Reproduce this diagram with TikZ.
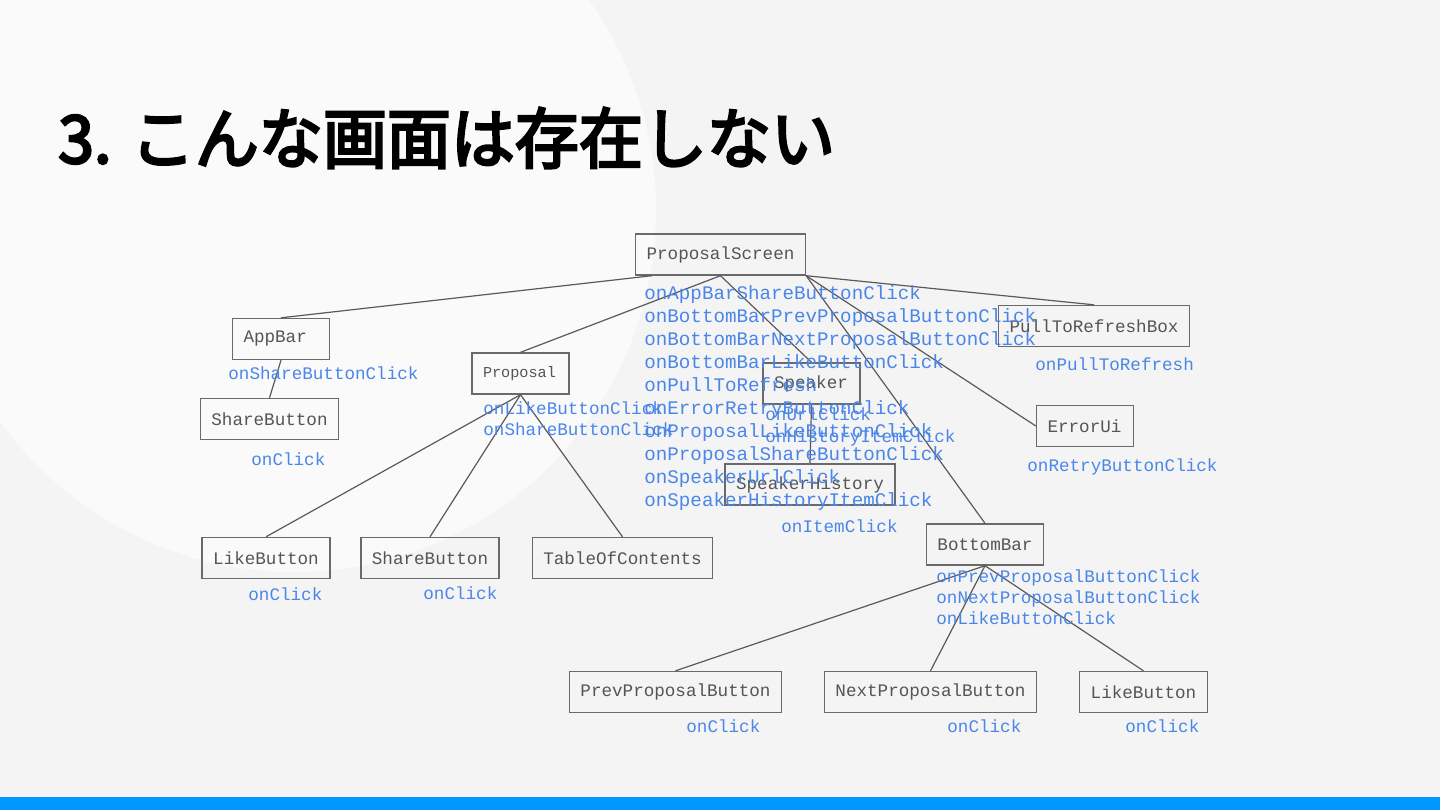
\documentclass[tikz,border=0pt]{standalone}
\usepackage{fontspec}
\setmonofont{Liberation Mono}
\newfontfamily\jpfont{Noto Sans CJK JP}[FakeBold=4]
\usetikzlibrary{positioning,calc}
\definecolor{slidebg}{HTML}{F4F4F4}
\definecolor{circlebg}{HTML}{FAFAFA}
\definecolor{barblue}{HTML}{0096FF}
\definecolor{linegray}{HTML}{5A5A5A}
\definecolor{boxgray}{HTML}{6A6A6A}
\definecolor{textgray}{HTML}{555555}
\definecolor{cbblue}{HTML}{4A86E8}
\tikzset{
  box/.style={draw=boxgray, line width=0.7pt, text=textgray, font=\ttfamily\fontsize{8.8}{10}\selectfont, inner xsep=5.5pt, inner ysep=0pt, minimum height=20.5pt},
  shortbox/.style={box, text width=37.5pt},
  edge/.style={draw=linegray, line width=0.6pt},
  cb/.style={text=cbblue, font=\ttfamily\fontsize{8.8}{10}\selectfont, inner sep=0pt, anchor=base west},
  cbbig/.style={cb, font=\ttfamily\fontsize{9.6}{11}\selectfont},
}
\begin{document}
\begin{tikzpicture}[x=0.5pt,y=-0.5pt]
        % slide
            \useasboundingbox (0,0) rectangle (1440,810);
            \fill[slidebg] (0,0) rectangle (1440,810);
            \begin{scope}
                \clip (0,0) rectangle (1440,810);
                \fill[circlebg] (294,210) circle (362);
            \end{scope}
            \fill[barblue] (0,797) rectangle (1440,810);
            \node[anchor=base west, inner sep=0pt, xscale=0.97, font=\jpfont\fontsize{33}{38}\selectfont] (title) at (58,163) {3. こんな画面は存在しない};
        % boxes
            \node[box] (screen) at (720.5,254.5) {ProposalScreen};
            \node[shortbox] (appbar) at (281,339) {AppBar};
            \node[box] (appshare) at (269.5,419) {ShareButton};
            \node[shortbox, font=\ttfamily\fontsize{7.6}{9}\selectfont] (proposal) at (520.5,373.5) {Proposal};
            \node[box] (proplike) at (266,558) {LikeButton};
            \node[box] (propshare) at (430,558) {ShareButton};
            \node[box] (toc) at (622.5,558) {TableOfContents};
            \node[shortbox] (speaker) at (811.5,383.5) {Speaker};
            \node[box] (history) at (810,484.5) {SpeakerHistory};
            \node[box] (pull) at (1094,326) {PullToRefreshBox};
            \node[shortbox] (errorui) at (1085,426) {ErrorUi};
            \node[box] (bottombar) at (985,544.5) {BottomBar};
            \node[box] (prevbtn) at (675.5,692) {PrevProposalButton};
            \node[box] (nextbtn) at (930.5,692) {NextProposalButton};
            \node[box] (barlike) at (1143.5,692) {LikeButton};
        % connectors
            \draw[edge] ($(screen.south west)!0.1!(screen.south east)$) -- (appbar.north);
            \draw[edge] (screen.south) -- (proposal.north);
            \draw[edge] (screen.south) -- (speaker.north);
            \draw[edge] (screen.south east) -- (pull.north);
            \draw[edge] (screen.south east) -- (errorui.west);
            \draw[edge] (screen.south east) -- (bottombar.north);
            \draw[edge] (appbar.south) -- (appshare.north);
            \draw[edge] (proposal.south) -- (proplike.north);
            \draw[edge] (proposal.south) -- (propshare.north);
            \draw[edge] (proposal.south) -- (toc.north);
            \draw[edge] (speaker.south) -- (history.north);
            \draw[edge] (bottombar.south) -- (prevbtn.north);
            \draw[edge] (bottombar.south) -- (nextbtn.north);
            \draw[edge] (bottombar.south) -- (barlike.north);
        % callbacks
            \node[cbbig] (s1) at (644,299) {onAppBarShareButtonClick};
            \node[cbbig] (s2) at (644,322) {onBottomBarPrevProposalButtonClick};
            \node[cbbig] (s3) at (644,345) {onBottomBarNextProposalButtonClick};
            \node[cbbig] (s4) at (644,368) {onBottomBarLikeButtonClick};
            \node[cbbig] (s5) at (644,391) {onPullToRefresh};
            \node[cbbig] (s6) at (644,414) {onErrorRetryButtonClick};
            \node[cbbig] (s7) at (644,437) {onProposalLikeButtonClick};
            \node[cbbig] (s8) at (644,460) {onProposalShareButtonClick};
            \node[cbbig] (s9) at (644,483) {onSpeakerUrlClick};
            \node[cbbig] (s10) at (644,506) {onSpeakerHistoryItemClick};
            \node[cb] (a1) at (228,379) {onShareButtonClick};
            \node[cb] (as1) at (251,465) {onClick};
            \node[cb] (p1) at (483,414) {onLikeButtonClick};
            \node[cb] (p2) at (483,435) {onShareButtonClick};
            \node[cb] (pl1) at (248,600) {onClick};
            \node[cb] (ps1) at (423,599) {onClick};
            \node[cb] (sp1) at (765,420) {onUrlClick};
            \node[cb] (sp2) at (765,442) {onHistoryItemClick};
            \node[cb] (h1) at (781,532) {onItemClick};
            \node[cb] (r1) at (1035,370) {onPullToRefresh};
            \node[cb] (e1) at (1027,471) {onRetryButtonClick};
            \node[cb] (b1) at (936,582) {onPrevProposalButtonClick};
            \node[cb] (b2) at (936,603) {onNextProposalButtonClick};
            \node[cb] (b3) at (936,624) {onLikeButtonClick};
            \node[cb] (pv1) at (686,732) {onClick};
            \node[cb] (nx1) at (947,732) {onClick};
            \node[cb] (bl1) at (1125,732) {onClick};
        \end{tikzpicture}
\end{document}
